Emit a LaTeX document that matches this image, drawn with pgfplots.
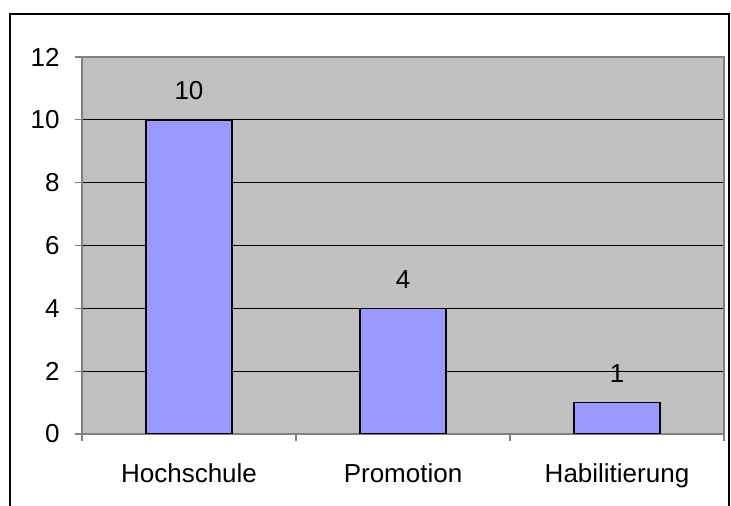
\documentclass[border=0pt]{standalone}
\usepackage{fontspec}
\setmainfont{Liberation Sans}
\usepackage{pgfplots}
\pgfplotsset{compat=1.18}
\usetikzlibrary{calc}
\definecolor{cPlot}{HTML}{C0C0C0}
\definecolor{cBar}{HTML}{9999FF}
\definecolor{cAxis}{HTML}{808080}

\begin{document}
\begin{tikzpicture}
  \begin{axis}[
      name=a,
      scale only axis,
      width=321pt, height=188.5pt,
      xmin=0.5, xmax=3.5,
      ymin=0, ymax=12,
      ytick={0,2,...,12},
      xtick={1,2,3},
      xticklabels={Hochschule, Promotion, Habilitierung},
      major x tick style={draw=none},
      extra x ticks={0.5,1.5,2.5,3.5},
      extra x tick labels={},
      extra x tick style={grid=none, major x tick style={draw=cAxis}},
      tick align=outside,
      major tick length=3.5pt,
      tick style={cAxis, line width=0.6pt},
      axis line style={cAxis, line width=0.8pt},
      ymajorgrids,
      grid style={black, line width=0.5pt},
      axis background/.style={fill=cPlot},
      axis x line*=bottom, axis y line*=left,
      /pgf/number format/assume math mode=true,
      every axis/.append style={font=\fontsize{13}{15}\selectfont},
      tick label style={font=\fontsize{13}{15}\selectfont},
      yticklabel style={inner sep=0pt, xshift=-7.5pt},
      xticklabel style={inner sep=0pt, anchor=north, yshift=-11pt},
      ybar, bar width=43pt,
      nodes near coords,
      nodes near coords style={font=\fontsize{13}{15}\selectfont, inner sep=0pt, anchor=south, yshift=9.5pt},
    ]
    \addplot[fill=cBar, draw=black, line width=0.7pt]
      coordinates {(1,10) (2,4) (3,1)};
  \end{axis}
  \draw[cAxis, line width=0.8pt] (a.north west) -- (a.north east) -- (a.south east);
  \draw[black, line width=1pt]
    ($(a.south west)+(-36pt,-60pt)$) -- ($(a.north west)+(-36pt,21.5pt)$)
    -- ($(a.north east)+(2.5pt,21.5pt)$) -- ($(a.south east)+(2.5pt,-60pt)$);
  \pgfresetboundingbox
  \path[use as bounding box] ($(a.south west)+(-41pt,-36pt)$) rectangle ($(a.north east)+(3.5pt,28.5pt)$);
\end{tikzpicture}
\end{document}
